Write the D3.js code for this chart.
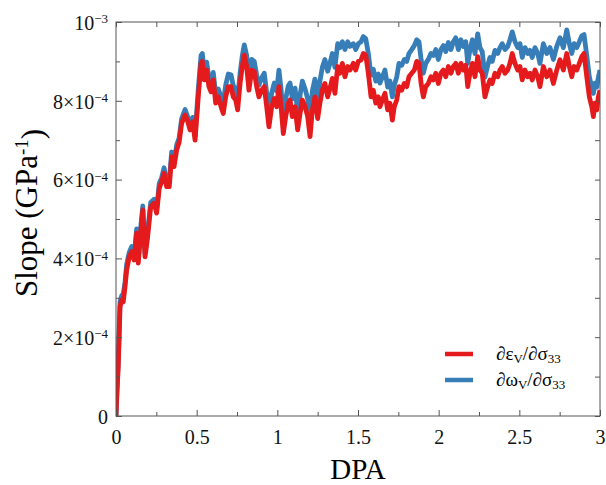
<!DOCTYPE html>
<html>
<head>
<meta charset="utf-8">
<script src="https://cdn.jsdelivr.net/npm/d3@7"></script>
<style>
  body { margin: 0; background: #fff; }
  svg text { font-family: "Liberation Serif", "DejaVu Serif", serif !important; }
</style>
</head>
<body>
<div id="chart"></div>
<script>
// DPA values of the sampled points
var dpa = [0.000,0.006,0.014,0.020,0.025,0.035,0.045,0.056,0.066,0.082,0.097,0.112,0.128,0.138,0.153,0.166,0.180,0.194,0.215,0.236,
  0.252,0.268,0.283,0.298,0.314,0.330,0.345,0.360,0.376,0.391,0.407,0.428,0.442,0.459,0.475,0.490,0.510,0.527,0.535,0.547,
  0.562,0.576,0.589,0.603,0.618,0.634,0.651,0.665,0.680,0.696,0.713,0.727,0.742,0.754,0.769,0.783,0.795,0.810,0.824,0.841,
  0.857,0.872,0.886,0.903,0.919,0.934,0.948,0.965,0.981,0.996,1.010,1.023,1.037,1.052,1.068,1.079,1.093,1.110,1.126,1.141,
  1.155,1.172,1.188,1.203,1.217,1.233,1.250,1.264,1.279,1.295,1.312,1.326,1.341,1.357,1.374,1.388,1.403,1.419,1.436,1.450,
  1.471,1.486,1.502,1.519,1.533,1.548,1.564,1.581,1.595,1.610,1.626,1.636,1.651,1.667,1.684,1.698,1.713,1.725,1.740,1.754,
  1.771,1.787,1.802,1.816,1.833,1.849,1.864,1.878,1.891,1.905,1.920,1.936,1.952,1.967,1.982,1.998,2.014,2.029,2.044,2.060,
  2.076,2.091,2.106,2.122,2.138,2.153,2.168,2.180,2.194,2.209,2.225,2.242,2.256,2.270,2.287,2.304,2.318,2.332,2.349,2.366,
  2.380,2.394,2.411,2.428,2.442,2.456,2.473,2.490,2.504,2.518,2.535,2.552,2.566,2.580,2.597,2.614,2.628,2.649,2.670,2.690,
  2.711,2.732,2.752,2.773,2.794,2.810,2.825,2.839,2.856,2.872,2.887,2.901,2.918,2.934,2.949,2.959,2.969,2.980,2.990,3.000];

// d eps_V / d sigma_33, in units of 1e-4 GPa^-1
var epsV = [0,0.6,1.25,2.1,2.77,2.94,2.9,3.28,3.7,4.04,4.17,3.96,4.64,3.88,4.64,5.23,4.04,4.47,5.31,5.4,
  5.15,5.78,5.95,6.16,5.82,5.82,6.58,6.33,6.75,6.94,7.43,7.64,7.51,7.26,7.47,7.0,8.1,8.95,9.0,8.53,
  8.78,8.36,8.23,8.53,7.94,8.1,7.85,7.68,8.1,8.36,8.36,8.1,8.02,7.77,8.44,8.87,9.16,8.87,8.27,8.78,
  8.74,8.36,8.1,8.27,8.36,7.85,7.34,7.85,8.06,7.85,8.36,7.85,7.17,7.6,7.94,8.02,7.6,7.85,7.26,7.68,
  8.02,7.85,7.6,7.09,7.77,8.1,7.55,7.94,8.27,8.44,8.1,8.31,8.57,8.19,8.87,8.7,8.95,8.61,8.87,8.78,
  8.95,8.78,9.0,9.04,9.2,9.16,8.7,8.1,8.27,7.94,8.1,7.85,8.02,8.19,7.77,7.94,7.51,7.85,8.02,8.36,
  8.27,8.44,8.36,8.61,8.7,8.78,9.0,8.95,8.44,8.1,8.36,8.44,8.61,8.53,8.7,8.44,8.7,8.78,8.61,8.87,
  8.7,8.87,8.95,8.7,8.95,8.78,8.9,8.36,8.7,8.95,8.61,9.12,8.78,8.7,8.1,8.36,8.53,8.44,8.7,8.61,
  8.78,8.87,8.7,8.78,8.95,9.2,8.95,8.78,8.87,8.53,8.78,8.61,8.7,8.53,8.78,8.61,8.36,8.87,8.61,8.78,
  8.44,8.78,9.04,8.78,9.2,8.87,8.61,8.87,8.78,8.95,9.12,9.2,8.61,8.1,7.85,7.6,7.94,7.77,8.1,8.27];

// d omega_V / d sigma_33, in units of 1e-4 GPa^-1
var omegaV = [0,0.7,1.4,2.25,2.9,3.05,3.1,3.4,3.85,4.15,4.3,4.05,4.75,3.98,4.78,5.33,4.12,4.6,5.42,5.5,
  5.25,5.9,6.05,6.3,5.92,5.95,6.7,6.42,6.88,7.05,7.55,7.78,7.62,7.38,7.58,7.1,8.3,9.15,9.2,8.75,
  8.98,8.58,8.45,8.72,8.15,8.3,8.1,7.95,8.4,8.68,8.66,8.38,8.3,8.05,8.7,9.15,9.42,9.15,8.55,9.05,
  9.0,8.65,8.4,8.58,8.7,8.2,7.7,8.2,8.45,8.25,8.78,8.3,7.6,8.05,8.38,8.45,8.05,8.32,7.7,8.15,
  8.5,8.3,8.05,7.55,8.25,8.55,8.05,8.5,8.85,9.05,8.75,8.95,9.2,8.85,9.45,9.35,9.5,9.3,9.5,9.38,
  9.45,9.3,9.45,9.5,9.63,9.58,9.2,8.65,8.8,8.5,8.68,8.45,8.6,8.78,8.35,8.5,8.1,8.4,8.6,8.95,
  8.9,9.05,9.0,9.2,9.3,9.4,9.55,9.5,9.05,8.7,8.95,9.05,9.2,9.15,9.3,9.05,9.3,9.4,9.25,9.48,
  9.3,9.5,9.6,9.3,9.55,9.38,9.5,8.95,9.3,9.55,9.2,9.7,9.35,9.25,8.6,8.9,9.1,9.0,9.28,9.2,
  9.35,9.45,9.3,9.38,9.55,9.75,9.5,9.35,9.45,9.1,9.35,9.2,9.28,9.1,9.35,9.2,8.95,9.45,9.2,9.35,
  9.05,9.38,9.6,9.35,9.8,9.45,9.2,9.45,9.35,9.5,9.65,9.68,9.15,8.6,8.35,8.19,8.45,8.35,8.6,8.78];

var xMajor = [0, 0.5, 1, 1.5, 2, 2.5, 3];
var xMinor = [0.25, 0.75, 1.25, 1.75, 2.25, 2.75];
var yMajor = [0, 2e-4, 4e-4, 6e-4, 8e-4, 1e-3];
var yMinor = [1e-4, 3e-4, 5e-4, 7e-4, 9e-4];
var yLabels = [["0", null], ["2×10", "−4"], ["4×10", "−4"], ["6×10", "−4"], ["8×10", "−4"], ["10", "−3"]];

var width = 606, height = 485;
var margin = {top: 22, right: 6, bottom: 69, left: 116};
var w = width - margin.left - margin.right,
    h = height - margin.top - margin.bottom;

var svg = d3.select("#chart").append("svg")
    .attr("width", width)
    .attr("height", height);

var g = svg.append("g")
    .attr("transform", "translate(" + margin.left + "," + margin.top + ")");

var x = d3.scaleLinear().domain([0, 3]).range([0, w]);
var y = d3.scaleLinear().domain([0, 1e-3]).range([h, 0]);

var series = [
  {name: "eps", color: "#e41a1c", values: epsV},
  {name: "omega", color: "#377eb8", values: omegaV}
];

var line = d3.line()
    .x(function(d) { return x(d[0]); })
    .y(function(d) { return y(d[1]); });

g.append("defs").append("clipPath").attr("id", "clip")
  .append("rect").attr("width", w).attr("height", h);

// blue drawn first, red on top
g.selectAll(".series")
    .data(series.slice().reverse())
  .enter().append("path")
    .attr("class", "series")
    .attr("clip-path", "url(#clip)")
    .attr("d", function(s) { return line(dpa.map(function(d, i) { return [d, s.values[i] * 1e-4]; })); })
    .attr("fill", "none")
    .attr("stroke", function(s) { return s.color; })
    .attr("stroke-width", 4.8)
    .attr("stroke-linejoin", "round");

// axes with inward ticks
function styleAxis(sel) {
  sel.attr("font-family", null);
  sel.select(".domain").remove();
  sel.selectAll(".tick line").attr("stroke", "#555");
  sel.selectAll(".tick text").attr("fill", "#111");
}

g.append("g").attr("transform", "translate(0," + h + ")")
  .call(d3.axisBottom(x).tickValues(xMajor).tickSize(-6).tickPadding(12).tickFormat(d3.format("")))
  .call(styleAxis)
  .selectAll("text").style("font-size", "20px").attr("dy", "0.8em");
g.append("g").attr("transform", "translate(0," + h + ")")
  .call(d3.axisBottom(x).tickValues(xMinor).tickSize(-4).tickFormat(""))
  .call(styleAxis);
g.append("g")
  .call(d3.axisTop(x).tickValues(xMajor.concat(xMinor)).tickSize(-5).tickFormat(""))
  .call(styleAxis);

var yAx = g.append("g")
  .call(d3.axisLeft(y).tickValues(yMajor).tickSize(-6).tickPadding(8))
  .call(styleAxis);
yAx.selectAll(".tick text").each(function(d, i) {
  var t = d3.select(this).text(null).style("font-size", "20px").attr("dy", "0.36em");
  t.append("tspan").text(yLabels[i][0]);
  if (yLabels[i][1]) {
    t.append("tspan").attr("dy", "-0.5em").style("font-size", "13px").text(yLabels[i][1]);
  }
});
g.append("g")
  .call(d3.axisLeft(y).tickValues(yMinor).tickSize(-4).tickFormat(""))
  .call(styleAxis);
g.append("g").attr("transform", "translate(" + w + ",0)")
  .call(d3.axisRight(y).tickValues(yMajor.concat(yMinor)).tickSize(-5).tickFormat(""))
  .call(styleAxis);

g.append("rect")
    .attr("width", w).attr("height", h)
    .attr("fill", "none").attr("stroke", "#555").attr("stroke-width", 1);

// axis titles
svg.append("text")
    .attr("x", margin.left + w / 2).attr("y", 479)
    .attr("text-anchor", "middle")
    .style("font-size", "29px")
    .text("DPA");

var yt = svg.append("text")
    .attr("transform", "translate(37,213)rotate(-90)")
    .attr("text-anchor", "middle")
    .style("font-size", "31px");
yt.append("tspan").text("Slope (GPa");
yt.append("tspan").attr("dy", "-0.5em").style("font-size", "19px").text("-1");
yt.append("tspan").attr("dy", "0.5em").text(")");

// legend
var legendItems = [
  {color: "#e41a1c", main: "∂ε", sub1: "V", mid: "/∂σ", sub2: "33"},
  {color: "#377eb8", main: "∂ω", sub1: "V", mid: "/∂σ", sub2: "33"}
];
var lg = svg.append("g").attr("transform", "translate(445,354)");
var item = lg.selectAll("g").data(legendItems).enter().append("g")
    .attr("transform", function(d, i) { return "translate(0," + i * 26 + ")"; });
item.append("line")
    .attr("x1", 0).attr("x2", 28)
    .attr("stroke", function(d) { return d.color; })
    .attr("stroke-width", 4.5);
var lt = item.append("text").attr("x", 51).attr("y", 6).style("font-size", "19px");
lt.append("tspan").text(function(d) { return d.main; });
lt.append("tspan").attr("dy", "3").style("font-size", "13px").text(function(d) { return d.sub1; });
lt.append("tspan").attr("dy", "-3").text(function(d) { return d.mid; });
lt.append("tspan").attr("dy", "3").style("font-size", "13px").text(function(d) { return d.sub2; });
</script>
</body>
</html>
